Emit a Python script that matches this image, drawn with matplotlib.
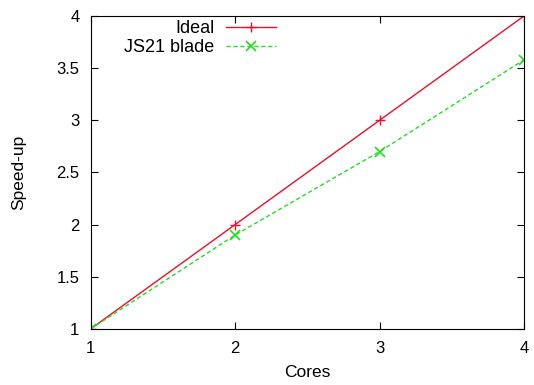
import matplotlib
matplotlib.use('Agg')
import matplotlib.pyplot as plt

cores = [1, 2, 3, 4]
ideal = [1, 2, 3, 4]
js21 = [1, 1.9, 2.7, 3.58]

plt.rcParams['font.family'] = ['Liberation Sans', 'DejaVu Sans']

fig = plt.figure(figsize=(5.34, 3.85), dpi=100)
ax = fig.add_axes([0.1695, 0.1455, 0.8118, 0.813])

ax.plot(cores, ideal, color='#e8102a', lw=1, marker='+', ms=7, mew=1, label='Ideal')
ax.plot(cores, js21, color='#22dd22', lw=1, ls=(0, (3, 2)), marker='x', ms=7, mew=1.2,
        label='JS21 blade')

ax.set_xlim(1, 4)
ax.set_ylim(1, 4)
ax.set_xticks([1, 2, 3, 4])
ax.set_yticks([1, 1.5, 2, 2.5, 3, 3.5, 4])
ax.set_yticklabels(['1', '1.5', '2', '2.5', '3', '3.5', '4'])
ax.tick_params(direction='in', top=True, right=True, labelsize=12, length=5)
ax.tick_params(axis='x', pad=9)
ax.tick_params(axis='y', pad=8)
ax.set_xlabel('Cores', fontsize=12.5, labelpad=6)
ax.set_ylabel('Speed-up', fontsize=12.5, labelpad=22)

# gnuplot-style key: text left of the line sample
ax.legend(loc='upper right', markerfirst=False, frameon=False, fontsize=13,
          handlelength=2.8, borderpad=0, borderaxespad=0, labelspacing=0.1,
          handletextpad=0.6, bbox_to_anchor=(0.517, 0.948),
          bbox_transform=fig.transFigure)

fig.savefig('out.png', dpi=100)
